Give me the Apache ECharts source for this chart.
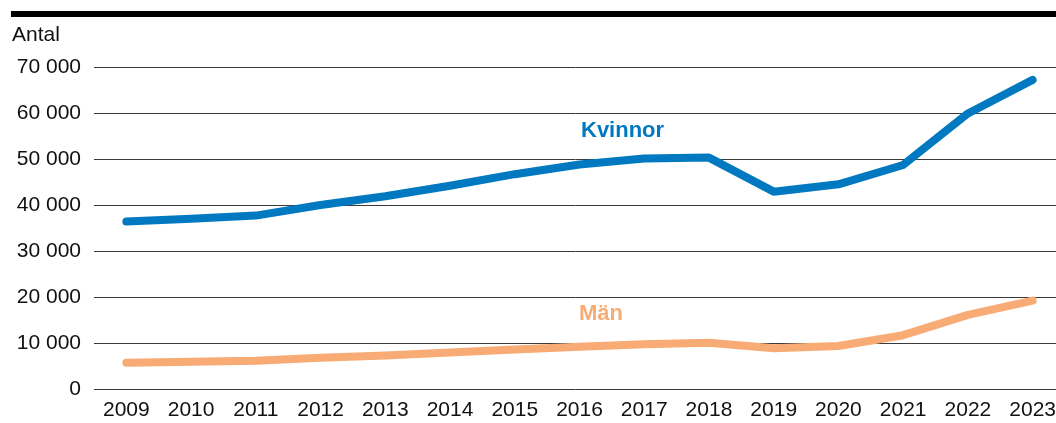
<!DOCTYPE html>
<html>
<head>
<meta charset="utf-8">
<script src="https://cdn.jsdelivr.net/npm/echarts@6/dist/echarts.min.js"></script>
<style>
  html, body { margin: 0; padding: 0; background: #fff; }
  #chart { width: 1056px; height: 423px; }
</style>
</head>
<body>
<div id="chart"></div>
<script>
const years = ['2009', '2010', '2011', '2012', '2013', '2014', '2015', '2016',
  '2017', '2018', '2019', '2020', '2021', '2022', '2023']
const kvinnor = [36400, 37000, 37700, 40000, 41900, 44200, 46700, 48800,
  50100, 50300, 42900, 44500, 48700, 59900, 67200]
const man = [5700, 5900, 6150, 6800, 7300, 7950, 8600, 9200,
  9750, 10050, 8850, 9350, 11700, 16100, 19200]

const FONT = '"Liberation Sans", Arial, Helvetica, sans-serif'
const BLUE = '#0079c1'
const ORANGE = '#f8ab74'

// 70000 -> "70 000"
function spaced(v) {
  return String(v).replace(/\B(?=(\d{3})+(?!\d))/g, ' ')
}

const chart = echarts.init(document.getElementById('chart'))

chart.setOption({
  animation: false,
  textStyle: { fontFamily: FONT },
  // plot runs a little past the right edge, as in the original
  grid: {
    left: 94, width: 971, top: 67, bottom: 34,
    containLabel: false, outerBoundsMode: 'none',
  },
  xAxis: {
    type: 'category',
    data: years,
    boundaryGap: true,
    axisLine: { show: false },
    axisTick: { show: false },
    axisLabel: { color: '#111', fontSize: 21, fontFamily: FONT, margin: 11 },
  },
  yAxis: {
    type: 'value',
    min: 0,
    max: 70000,
    interval: 10000,
    axisLine: { show: false },
    axisTick: { show: false },
    axisLabel: {
      color: '#111',
      fontSize: 21,
      fontFamily: FONT,
      margin: 13,
      formatter: (v) => spaced(v),
    },
    splitLine: { lineStyle: { color: '#3a3a3a', width: 1 } },
  },
  series: [
    {
      name: 'Kvinnor',
      type: 'line',
      data: kvinnor,
      symbol: 'none',
      lineStyle: { color: BLUE, width: 8, cap: 'round', join: 'round' },
      z: 3,
    },
    {
      name: 'Män',
      type: 'line',
      data: man,
      symbol: 'none',
      lineStyle: { color: ORANGE, width: 8, cap: 'round', join: 'round' },
      z: 2,
    },
  ],
  graphic: [
    // black bar across the top
    { type: 'rect', left: 11, top: 11, shape: { width: 1045, height: 6 }, style: { fill: '#000' } },
    {
      type: 'text', x: 12, y: 35,
      style: { text: 'Antal', fill: '#111', font: '21px ' + FONT, verticalAlign: 'middle' },
    },
    {
      type: 'text', x: 581, y: 131,
      style: { text: 'Kvinnor', fill: BLUE, font: 'bold 22px ' + FONT, verticalAlign: 'middle' },
    },
    {
      type: 'text', x: 579, y: 314,
      style: { text: 'Män', fill: ORANGE, font: 'bold 22px ' + FONT, verticalAlign: 'middle' },
    },
  ],
})

window.addEventListener('resize', () => chart.resize())
</script>
</body>
</html>
